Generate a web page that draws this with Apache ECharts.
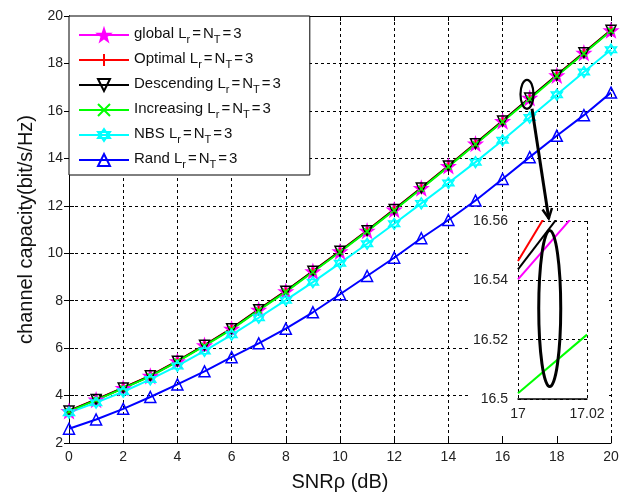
<!DOCTYPE html>
<html>
<head>
<meta charset="utf-8">
<script src="https://cdn.jsdelivr.net/npm/echarts@6/dist/echarts.min.js"></script>
<style>
html, body { margin: 0; padding: 0; background: #fff; }
#chart { width: 624px; height: 492px; }
</style>
</head>
<body>
<div id="chart"></div>
<script>
// SNR (dB)
const snr = [0, 1, 2, 3, 4, 5, 6, 7, 8, 9, 10, 11, 12, 13, 14, 15, 16, 17, 18, 19, 20];

// channel capacity (bit/s/Hz)
const globalCap     = [3.34, 3.82, 4.31, 4.82, 5.44, 6.11, 6.81, 7.61, 8.39, 9.23, 10.07, 10.94, 11.83, 12.74, 13.67, 14.61, 15.56, 16.540, 17.49, 18.44, 19.39];
const optimalCap    = [3.36, 3.84, 4.33, 4.84, 5.46, 6.13, 6.83, 7.63, 8.41, 9.25, 10.09, 10.96, 11.85, 12.76, 13.69, 14.63, 15.58, 16.546, 17.51, 18.46, 19.41];
const descendingCap = [3.35, 3.83, 4.32, 4.83, 5.45, 6.12, 6.82, 7.62, 8.40, 9.24, 10.08, 10.95, 11.84, 12.75, 13.68, 14.62, 15.57, 16.544, 17.50, 18.45, 19.40];
const increasingCap = [3.33, 3.81, 4.30, 4.81, 5.43, 6.09, 6.79, 7.59, 8.37, 9.21, 10.05, 10.92, 11.81, 12.72, 13.65, 14.59, 15.54, 16.502, 17.47, 18.42, 19.38];
const nbsCap        = [3.28, 3.70, 4.16, 4.68, 5.25, 5.88, 6.56, 7.28, 8.02, 8.78, 9.58, 10.40, 11.24, 12.10, 12.96, 13.84, 14.76, 15.72, 16.68, 17.64, 18.58];
const randCap       = [2.60, 2.99, 3.44, 3.94, 4.47, 5.02, 5.62, 6.20, 6.82, 7.51, 8.27, 9.04, 9.81, 10.63, 11.40, 12.22, 13.13, 14.05, 14.95, 15.82, 16.77];

// zoomed inset, around SNR = 17 dB
const zoomSnr        = [17, 17.02];
const zoomGlobal     = [16.5403, 16.567];
const zoomOptimal    = [16.5465, 16.585];
const zoomDescending = [16.5437, 16.574];
const zoomIncreasing = [16.5019, 16.5217];

const legendNames = ['global', 'Optimal', 'Descending', 'Increasing', 'NBS', 'Rand'];

const FONT = 'Liberation Sans, Arial, sans-serif';
const starPath = 'path://M0,-10L2.35,-3.24L9.51,-3.09L3.8,1.24L5.88,8.09L0,4L-5.88,8.09L-3.8,1.24L-9.51,-3.09L-2.35,-3.24Z';
const hexPath = 'path://M0,-10L8.66,5L-8.66,5ZM0,10L8.66,-5L-8.66,-5Z';
const plusPath = 'path://M-5,0L5,0M0,-5L0,5';
const crossPath = 'path://M-5,-5L5,5M5,-5L-5,5';

function pairs(xs, ys) {
  return xs.map((x, i) => [x, ys[i]]);
}

function mainLine(name, ys, color, symbol, size, filled, rotate) {
  return {
    name: name,
    type: 'line',
    xAxisIndex: 0,
    yAxisIndex: 0,
    data: pairs(snr, ys),
    symbol: symbol,
    symbolSize: size,
    symbolRotate: rotate || 0,
    showAllSymbol: true,
    lineStyle: { color: color, width: 2 },
    itemStyle: { color: filled ? color : 'transparent', borderColor: color, borderWidth: 1.5 },
    emphasis: { disabled: true },
    animation: false
  };
}

function zoomLine(name, ys, color) {
  return {
    name: name,
    type: 'line',
    xAxisIndex: 2,
    yAxisIndex: 2,
    data: pairs(zoomSnr, ys),
    symbol: 'none',
    clip: true,
    z: 6,
    lineStyle: { color: color, width: 2 },
    itemStyle: { color: color },
    animation: false
  };
}

const dashed = { show: true, lineStyle: { color: '#000', type: [3, 3], width: 1 } };
const labelStyle = { color: '#222', fontSize: 14, fontFamily: FONT };

const chart = echarts.init(document.getElementById('chart'));

const option = {
  backgroundColor: '#fff',
  animation: false,
  grid: [
    { left: 69, right: 13, top: 16, bottom: 49, outerBoundsMode: 'none', containLabel: false },
    { left: 518, top: 221, width: 69, height: 178, outerBoundsMode: 'none', containLabel: false }
  ],
  legend: {
    data: legendNames,
    orient: 'vertical',
    left: 69,
    top: 16,
    padding: [10, 29, 5, 9],
    itemWidth: 50,
    itemHeight: 15,
    itemGap: 6,
    backgroundColor: '#fff',
    borderColor: '#000',
    borderWidth: 1,
    z: 10,
    selectedMode: false,
    formatter: name => '{t|' + name + ' L}{s|r}{e|=}{t|N}{s|T}{e|=}{t|3}',
    textStyle: {
      rich: {
        t: { fontSize: 15, fontFamily: FONT, color: '#111', lineHeight: 18, verticalAlign: 'top' },
        e: { fontSize: 15, fontFamily: FONT, color: '#111', lineHeight: 18, verticalAlign: 'top', padding: [0, 2, 0, 2] },
        s: { fontSize: 11, fontFamily: FONT, color: '#111', lineHeight: 13, padding: [8, 0, 0, 0], verticalAlign: 'top' }
      }
    }
  },
  xAxis: [
    {
      gridIndex: 0, type: 'value', position: 'bottom', min: 0, max: 20, interval: 2,
      axisLine: { show: true, lineStyle: { color: '#000', width: 1 } },
      axisTick: { show: true, inside: true, length: 5, lineStyle: { color: '#000' } },
      axisLabel: Object.assign({ margin: 7 }, labelStyle),
      splitLine: dashed,
      name: 'SNRρ (dB)', nameLocation: 'middle', nameGap: 29,
      nameTextStyle: { fontSize: 20, fontFamily: FONT, color: '#111', verticalAlign: 'top' }
    },
    {
      gridIndex: 0, type: 'value', position: 'top', min: 0, max: 20, interval: 2,
      axisLine: { show: true, lineStyle: { color: '#000', width: 1 } },
      axisTick: { show: true, inside: true, length: 5, lineStyle: { color: '#000' } },
      axisLabel: { show: false },
      splitLine: { show: false }
    },
    {
      gridIndex: 1, type: 'value', min: 17, max: 17.02, interval: 0.02, z: 5,
      axisLine: { show: true, lineStyle: { color: '#000', width: 1.5 } },
      axisTick: { show: false },
      axisLabel: Object.assign({ margin: 8, formatter: v => String(+v.toFixed(2)) }, labelStyle),
      splitLine: dashed
    }
  ],
  yAxis: [
    {
      gridIndex: 0, type: 'value', position: 'left', min: 2, max: 20, interval: 2,
      axisLine: { show: true, lineStyle: { color: '#000', width: 1 } },
      axisTick: { show: true, inside: true, length: 5, lineStyle: { color: '#000' } },
      axisLabel: Object.assign({ margin: 6 }, labelStyle),
      splitLine: dashed,
      name: 'channel capacity(bit/s/Hz)', nameLocation: 'middle', nameGap: 31,
      nameTextStyle: { fontSize: 20, fontFamily: FONT, color: '#111' }
    },
    {
      gridIndex: 0, type: 'value', position: 'right', min: 2, max: 20, interval: 2,
      axisLine: { show: true, lineStyle: { color: '#000', width: 1 } },
      axisTick: { show: true, inside: true, length: 5, lineStyle: { color: '#000' } },
      axisLabel: { show: false },
      splitLine: { show: false }
    },
    {
      gridIndex: 1, type: 'value', min: 16.5, max: 16.56, interval: 0.02, z: 5,
      axisLine: { show: false },
      axisTick: { show: false },
      axisLabel: Object.assign({ margin: 10, formatter: v => String(+v.toFixed(2)) }, labelStyle),
      splitLine: dashed
    }
  ],
  series: [
    mainLine('global', globalCap, '#ff00ff', starPath, 13, true),
    mainLine('Optimal', optimalCap, '#ff0000', plusPath, 7, false),
    mainLine('Descending', descendingCap, '#000000', 'triangle', 10, false, 180),
    mainLine('Increasing', increasingCap, '#00ff00', crossPath, 6, false),
    mainLine('NBS', nbsCap, '#00ffff', hexPath, 11, false),
    mainLine('Rand', randCap, '#0000ff', 'triangle', 11, false),
    zoomLine('global zoom', zoomGlobal, '#ff00ff'),
    zoomLine('Optimal zoom', zoomOptimal, '#ff0000'),
    zoomLine('Descending zoom', zoomDescending, '#000000'),
    zoomLine('Increasing zoom', zoomIncreasing, '#00ff00')
  ]
};

chart.setOption(option);

// annotations: white patch behind the inset, the two ellipses and the arrow
const small = chart.convertToPixel({ xAxisIndex: 0, yAxisIndex: 0 }, [16.9, 16.7]);
const big = chart.convertToPixel({ xAxisIndex: 2, yAxisIndex: 2 }, [17.0092, 16.5305]);
const smallR = [6.5, 14.5];
const bigR = [11, 78];
const arrowStart = [small[0] + 5, small[1] + smallR[1]];
const arrowEnd = [big[0] - 1, big[1] - bigR[1] - 12];
const ang = Math.atan2(arrowEnd[1] - arrowStart[1], arrowEnd[0] - arrowStart[0]);
const headLen = 11, headAng = 0.45;

chart.setOption({
  graphic: [
    {
      type: 'rect', z: 1, silent: true,
      shape: { x: 468, y: 213, width: 138, height: 220 },
      style: { fill: '#fff' }
    },
    {
      type: 'ellipse', z: 20, silent: true,
      shape: { cx: small[0], cy: small[1], rx: smallR[0], ry: smallR[1] },
      style: { fill: 'none', stroke: '#000', lineWidth: 2.2 }
    },
    {
      type: 'ellipse', z: 20, silent: true,
      shape: { cx: big[0], cy: big[1], rx: bigR[0], ry: bigR[1] },
      style: { fill: 'none', stroke: '#000', lineWidth: 3 }
    },
    {
      type: 'line', z: 20, silent: true,
      shape: { x1: arrowStart[0], y1: arrowStart[1], x2: arrowEnd[0], y2: arrowEnd[1] },
      style: { stroke: '#000', lineWidth: 3 }
    },
    {
      type: 'polyline', z: 20, silent: true,
      shape: {
        points: [
          [arrowEnd[0] - headLen * Math.cos(ang - headAng), arrowEnd[1] - headLen * Math.sin(ang - headAng)],
          arrowEnd,
          [arrowEnd[0] - headLen * Math.cos(ang + headAng), arrowEnd[1] - headLen * Math.sin(ang + headAng)]
        ]
      },
      style: { stroke: '#000', lineWidth: 2.5, fill: 'none' }
    }
  ]
});
</script>
</body>
</html>
